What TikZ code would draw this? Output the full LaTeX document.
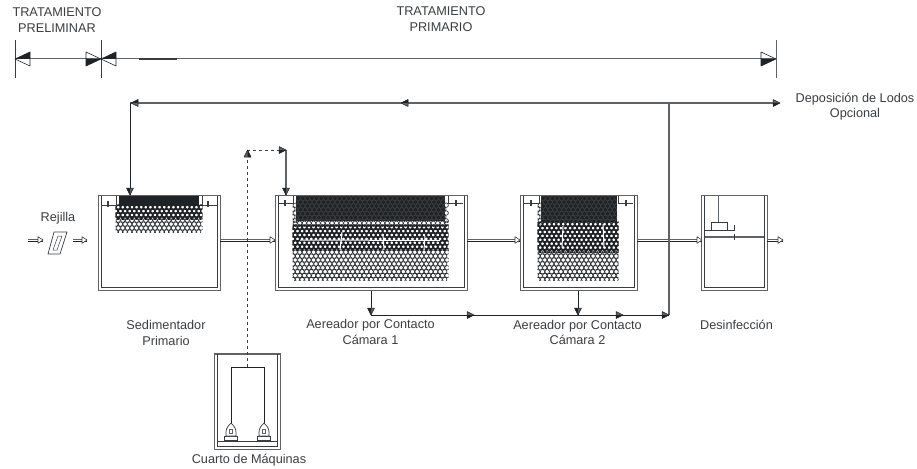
\documentclass[tikz,border=0pt]{standalone}
\usepackage{fontspec}
\setmainfont{Liberation Sans}
\usepackage{tikz}
\usetikzlibrary{arrows.meta,positioning}
\definecolor{inkdark}{HTML}{1F2326}
\definecolor{inkline}{HTML}{3A3D40}
\definecolor{inkgrey}{HTML}{606366}
\tikzset{
  plant-label/.style={align=center, text=inkline, inner sep=0pt, font=\fontsize{12.7}{15.6}\selectfont},
  tank-wall/.style={draw=inkgrey, fill=white, line width=1pt, inner sep=0pt},
  tank-inner/.style={draw=inkline, line width=0.7pt},
  weir-line/.style={draw=inkline, line width=0.7pt},
  weir-mark/.style={draw=inkline, line width=1.6pt},
  flow-line/.style={draw=inkdark, line width=0.8pt},
  sludge-line/.style={draw=inkgrey, line width=1.1pt},
  dim-line/.style={draw=inkgrey, line width=1pt},
  air-line/.style={draw=inkline, line width=0.8pt, dash pattern=on 3.5pt off 2.5pt},
  block-upper/.style={draw=inkgrey, line width=0.7pt},
  block-lower/.style={draw=inkdark, line width=0.7pt},
  media-crack/.style={draw=white, line width=1pt},
  pics/halfhead/.style={code={
    \fill[inkdark] (0,0) -- (-15,7) -- (-15,0) -- cycle;
    \draw[inkdark, line width=0.6pt, line join=round] (0,0) -- (-15,-7) -- (-15,7) -- cycle;
  }},
  pics/flowhead/.style={code={
    \fill[inkgrey] (0,0) -- (-7,-3.5) -- (-7,3.5) -- cycle;
    \fill[inkdark] (0,0) -- (-7,3.5) -- (-7,0) -- cycle;
    \draw[inkdark, line width=0.5pt, line join=round] (0,0) -- (-7,-3.5) -- (-7,3.5) -- cycle;
  }},
  pics/openhead/.style={code={
    \draw[inkline, fill=white, line width=0.6pt, line join=round] (0,0) -- (-5,-3.3) -- (-5,3.3) -- cycle;
  }},
  pics/blower/.style={code={
    \draw[inkline, line width=0.7pt] (-6.5,0) rectangle (6.5,4.5);
    \draw[inkline, line width=0.7pt, fill=white] (-5,0) -- (-5,-4) .. controls (-5,-8) and (-2,-11) .. (0,-13)
      .. controls (2,-11) and (5,-8) .. (5,-4) -- (5,0) -- cycle;
    \draw[inkgrey, line width=0.5pt] (-1.5,-6.5) rectangle (1.5,-2.5);
  }}
}
% circles of the contact media, staggered row by row
\newcommand{\mediabed}[5]{
  \pgfmathtruncatemacro{\nrows}{(#4-#3)/3.9}
  \pgfmathtruncatemacro{\ncols}{(#2-#1)/4.6}
  \begin{scope}
    \clip (#1-0.6,#3-0.6) rectangle (#2+0.6,#4+0.6);
    \foreach \r in {0,...,\nrows}{
      \foreach \c in {0,...,\ncols}{
        \draw[#5] ({#1+2.2+4.6*\c-2.3*mod(\r,2)},{#3+2.2+3.9*\r}) circle (2.2);
      }
    }
  \end{scope}
}
% inner walls of a tank node, top edge again over the media
\newcommand{\tankinner}[1]{
  \draw[tank-inner] ([xshift=3.5]#1.north west) -- ([xshift=3.5,yshift=3.5]#1.south west)
    -- ([xshift=-3.5,yshift=3.5]#1.south east) -- ([xshift=-3.5]#1.north east);
  \draw[block-upper] (#1.north west) -- (#1.north east);
}
% open double-line arrow between two named points
\newcommand{\blockflow}[2]{
  \draw[block-upper] ([yshift=1]#1) -- ([yshift=1]#2);
  \draw[block-lower] ([yshift=-1]#1) -- ([yshift=-1]#2);
  \pic at (#2) {openhead};
}
\tikzset{
  media-dark/.style={draw=inkgrey, line width=0.08pt},
  media-mid/.style={draw=inkdark, line width=1.4pt},
  media-open/.style={draw=inkdark, line width=0.6pt}
}

\begin{document}
\begin{tikzpicture}[>=Latex, x=1pt, y=-1pt]
  \useasboundingbox (0,0) rectangle (917,468);

  % Title labels for the two stages
  \node[plant-label] (lblprel) at (57,20) {TRATAMIENTO\\PRELIMINAR};
  \node[plant-label] (lblprim) at (441,19) {TRATAMIENTO\\PRIMARIO};

  % --- Dimension line ---
  \coordinate (dima) at (15,59);
  \coordinate (dimb) at (101,59);
  \coordinate (dimc) at (776,59);
  \draw[dim-line] (dima) -- (dimc);
  \draw[inkline, line width=1.2pt] (139,59) -- (177,59);
  \draw[inkline, line width=0.7pt] (15,40) -- (15,78);
  \draw[inkline, line width=0.7pt] (101,40) -- (101,78);
  \draw[inkgrey, line width=0.8pt] (776,40) -- (776,78);
  \pic[rotate=180] at (dima) {halfhead};
  \pic at (dimb) {halfhead};
  \pic[rotate=180] at (dimb) {halfhead};
  \pic at (dimc) {halfhead};

  % --- Rejilla ---
  \node[plant-label] (lblrej) at (58,218) {Rejilla};
  \coordinate (ina) at (28,240);
  \coordinate (inb) at (43,240);
  \coordinate (inc) at (73,240);
  \coordinate (ind) at (87,240);
  \blockflow{ina}{inb}
  \blockflow{inc}{ind}
  \draw[inkline, line width=0.7pt] (54,232) -- (67,232) -- (60,254) -- (48,254) -- cycle;
  \draw[inkline, line width=0.5pt] (58,236) -- (62,236) -- (57,250) -- (53,250) -- cycle;

  % --- Sedimentador ---
  \node[tank-wall, minimum width=122, minimum height=95] (sed) at (159,243.2) {};
  \mediabed{116}{202}{205}{219}{media-mid}
  \mediabed{116}{202}{218}{232}{media-open}
  \fill[inkdark] (119,196) rectangle (199,206);
  \tankinner{sed}
  \draw[weir-line] (101,205) -- (116,205) -- (116,196);
  \draw[weir-line] (217,205) -- (202,205) -- (202,196);
  \draw[weir-mark] (108,201) -- (108,207);
  \draw[weir-mark] (208,201) -- (208,207);
  \node[plant-label] (lblsed) at (166,333) {Sedimentador\\Primario};

  % --- Aereador 1 ---
  \node[tank-wall, minimum width=192, minimum height=95] (aerone) at (371,243.2) {};
  \mediabed{293}{448}{221}{226}{media-open}
  \mediabed{293}{448}{225}{250}{media-mid}
  \mediabed{293}{448}{250}{280}{media-open}
  \mediabed{293}{297}{203}{222}{media-open}
  \mediabed{444}{448}{203}{222}{media-open}
  \fill[inkdark] (296,196) rectangle (445,221);
  \mediabed{296}{445}{196}{221}{media-dark}
  \draw[media-crack] (342,232) -- (340,250);
  \draw[media-crack] (383,234) -- (384,250);
  \draw[media-crack] (425,236) -- (424,250);
  \draw[media-crack] (300,240) -- (440,240.5);
  \tankinner{aerone}
  \draw[weir-line] (278,203) -- (293,203) -- (293,196);
  \draw[weir-line] (463,203) -- (448,203) -- (448,196);
  \draw[weir-mark] (285,200) -- (285,206);
  \draw[weir-mark] (456,200) -- (456,206);
  \node[plant-label] (lblaerone) at (370.5,332) {Aereador por Contacto\\Cámara 1};

  % --- Aereador 2 ---
  \node[tank-wall, minimum width=117, minimum height=95] (aertwo) at (578.5,243.2) {};
  \mediabed{538}{618}{222}{252}{media-mid}
  \mediabed{538}{618}{250}{280}{media-open}
  \mediabed{538}{542}{203}{224}{media-open}
  \fill[inkdark] (541,196) rectangle (617,222);
  \mediabed{541}{617}{196}{222}{media-dark}
  \draw[media-crack] (563,226) -- (562,248);
  \draw[media-crack] (603,224) -- (604,248);
  \tankinner{aertwo}
  \draw[weir-line] (524,203) -- (539,203) -- (539,196);
  \draw[weir-line] (633,203) -- (618,203) -- (618,196);
  \draw[weir-mark] (531,200) -- (531,206);
  \draw[weir-mark] (626,200) -- (626,206);
  \node[plant-label] (lblaertwo) at (577.5,332.5) {Aereador por Contacto\\Cámara 2};

  % --- Desinfeccion ---
  \node[tank-wall, minimum width=65.5, minimum height=95] (des) at (734.5,243.2) {};
  \tankinner{des}
  \draw[inkgrey, line width=1.3pt] (705,237) -- (764,237);
  \draw[inkline, line width=1.3pt] (705,230.5) -- (734,230.5);
  \draw[inkline, line width=0.7pt] (734,230.5) -- (734,225);
  \draw[inkline, line width=0.7pt, fill=white] (711,230) rectangle (727,222);
  \draw[inkgrey, line width=1.4pt] (718.7,196) -- (718.7,222);
  \draw[weir-mark] (734.5,234) -- (734.5,240);
  \node[plant-label] (lbldes) at (736.5,325) {Desinfección};

  % --- Flow between tanks ---
  \coordinate (sedout) at (220,240);
  \coordinate (aeronein) at (275,240);
  \coordinate (aeroneout) at (467,240);
  \coordinate (aertwoin) at (520,240);
  \coordinate (aertwoout) at (637,240);
  \coordinate (desin) at (702,240);
  \coordinate (desout) at (767,240);
  \coordinate (desend) at (783,240);
  \blockflow{sedout}{aeronein}
  \blockflow{aeroneout}{aertwoin}
  \blockflow{aertwoout}{desin}
  \blockflow{desout}{desend}

  % --- Sludge return ---
  \coordinate (lodosa) at (130,103);
  \coordinate (lodosb) at (775,103);
  \coordinate (lodosc) at (669,103);
  \coordinate (lodosd) at (669,315);
  \coordinate (sedtop) at (130,195);
  \coordinate (colla) at (371,315);
  \coordinate (collb) at (578,315);
  \coordinate (aeronebot) at (371,291);
  \coordinate (aertwobot) at (578,291);
  \draw[sludge-line] (lodosa) -- (lodosb);
  \draw[flow-line] (lodosa) -- (sedtop);
  \draw[sludge-line] (lodosc) -- (lodosd);
  \draw[flow-line] (colla) -- (lodosd);
  \draw[flow-line] (aeronebot) -- (colla);
  \draw[flow-line] (aertwobot) -- (collb);
  \pic[rotate=180] at (131,103) {flowhead};
  \pic[rotate=180] at (401,103) {flowhead};
  \pic at (780,103) {flowhead};
  \pic[rotate=-90] at (sedtop) {flowhead};
  \pic[rotate=-90] at (colla) {flowhead};
  \pic[rotate=-90] at (collb) {flowhead};
  \pic at (474,315) {flowhead};
  \pic at (623,315) {flowhead};
  \pic at (lodosd) {flowhead};
  \node[plant-label] (lbllodos) at (855,106.5) {Deposición de Lodos\\Opcional};

  % --- Cuarto de maquinas ---
  \node[tank-wall, minimum width=65.5, minimum height=95] (cuarto) at (247.5,401.5) {};
  \tankinner{cuarto}
  \draw[tank-inner] (218,441) -- (277,441);
  \coordinate (pipea) at (231,425);
  \coordinate (pipeb) at (231,367);
  \coordinate (pipec) at (264,367);
  \coordinate (piped) at (264,425);
  \draw[flow-line] (pipea) -- (pipeb) -- (pipec) -- (piped);
  \pic at (231,436) {blower};
  \pic at (264,436) {blower};
  \node[plant-label] (lblcuarto) at (249,460.5) {Cuarto de Máquinas};

  % --- Air line ---
  \coordinate (aira) at (247.5,367);
  \coordinate (airb) at (247.5,150);
  \coordinate (airc) at (286,150);
  \coordinate (aird) at (286,195);
  \draw[air-line] (aira) -- (airb) -- (airc);
  \draw[sludge-line] (airc) -- (aird);
  \pic[rotate=90] at (airb) {flowhead};
  \pic at (airc) {flowhead};
  \pic[rotate=-90] at (aird) {flowhead};
\end{tikzpicture}
\end{document}
